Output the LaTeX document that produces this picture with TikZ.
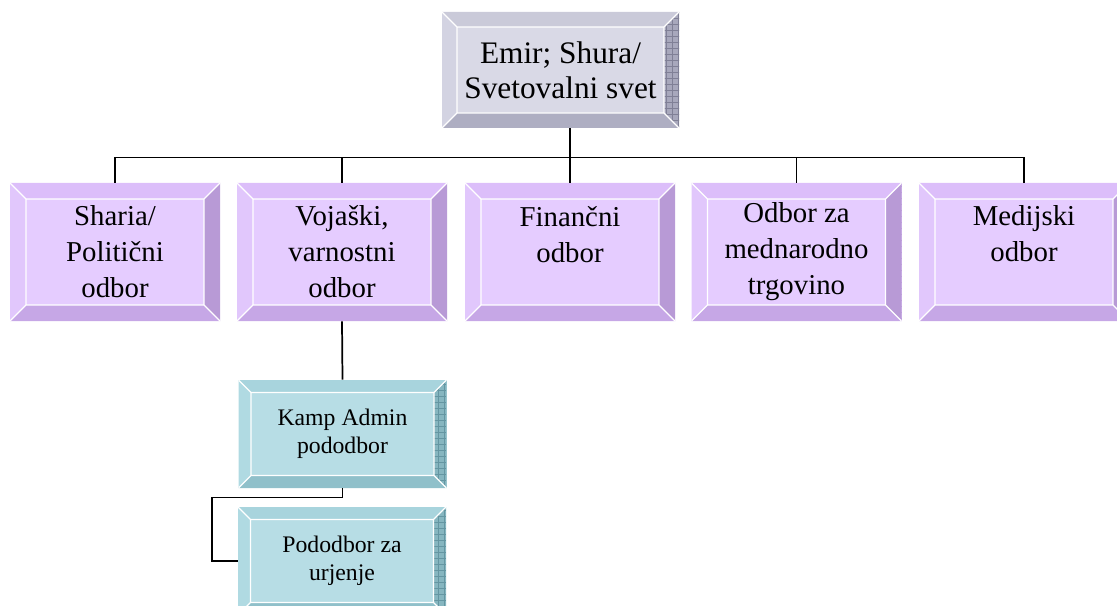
\documentclass[tikz,border=0pt]{standalone}
\usepackage{fontspec}
\setmainfont{Liberation Serif}
\usetikzlibrary{patterns.meta}

\definecolor{greyface}{RGB}{217,217,230}
\definecolor{greytop}{RGB}{202,202,217}
\definecolor{greyleft}{RGB}{211,211,226}
\definecolor{greyright}{RGB}{168,168,188}
\definecolor{greybottom}{RGB}{174,174,194}
\definecolor{greygrid}{RGB}{128,128,150}
\definecolor{lilacface}{RGB}{229,204,255}
\definecolor{lilactop}{RGB}{220,190,250}
\definecolor{lilacleft}{RGB}{225,199,252}
\definecolor{lilacright}{RGB}{184,154,214}
\definecolor{lilacbottom}{RGB}{198,167,230}
\definecolor{tealface}{RGB}{183,221,229}
\definecolor{tealtop}{RGB}{168,212,221}
\definecolor{tealleft}{RGB}{176,218,226}
\definecolor{tealright}{RGB}{134,182,192}
\definecolor{tealbottom}{RGB}{144,192,202}
\definecolor{tealgrid}{RGB}{100,150,162}

\tikzset{
  bevel/.style n args={7}{fill=#2, inner sep=0pt, align=center,
    path picture={
      \coordinate (nw) at (path picture bounding box.north west);
      \coordinate (ne) at (path picture bounding box.north east);
      \coordinate (sw) at (path picture bounding box.south west);
      \coordinate (se) at (path picture bounding box.south east);
      \coordinate (inw) at ([shift={(#1,-#1)}]nw);
      \coordinate (ine) at ([shift={(-#1,-#1)}]ne);
      \coordinate (isw) at ([shift={(#1,#1)}]sw);
      \coordinate (ise) at ([shift={(-#1,#1)}]se);
      \fill[#3] (nw) -- (ne) -- (ine) -- (inw) -- cycle;
      \fill[#4] (nw) -- (inw) -- (isw) -- (sw) -- cycle;
      \fill[#5] (ne) -- (se) -- (ise) -- (ine) -- cycle;
      \fill[pattern={Hatch[distance=4.5pt, line width=0.5pt]}, pattern color=#7]
        (ne) -- (se) -- (ise) -- (ine) -- cycle;
      \fill[#6] (sw) -- (isw) -- (ise) -- (se) -- cycle;
      \draw[white, line width=0.9pt] (inw) rectangle (ise)
        (nw) -- (inw) (ne) -- (ine) (sw) -- (isw) (se) -- (ise);
    }},
  head/.style = {bevel={11.25pt}{greyface}{greytop}{greyleft}{greyright}{greybottom}{greygrid},
    minimum width=177.75pt, minimum height=87pt,
    font=\fontsize{23.5}{26}\selectfont},
  board/.style = {bevel={12pt}{lilacface}{lilactop}{lilacleft}{lilacright}{lilacbottom}{lilacright},
    minimum width=157.5pt, minimum height=103.5pt,
    font=\fontsize{21.6}{27}\selectfont},
  short/.style = {text depth=27pt},
  sub/.style = {bevel={9.4pt}{tealface}{tealtop}{tealleft}{tealright}{tealbottom}{tealgrid},
    minimum width=156pt, minimum height=81pt,
    font=\fontsize{17.8}{21}\selectfont},
  link/.style = {line width=1.3pt}
}

\begin{document}
\begin{tikzpicture}[x=0.75pt, y=-0.75pt]
    \useasboundingbox (0,0) rectangle (1117,606);
    \clip (0,0) rectangle (1117,606);

    \node[head] (emir) at (560.5,70) {Emir; Shura/\\Svetovalni svet};

    \node[board] (sharia) at (115,252) {Sharia/\\Politični\\odbor};
    \node[board] (vojaski) at (342,252) {Vojaški,\\varnostni\\odbor};
    \node[board, short] (fin) at (570,252) {Finančni\\odbor};
    \node[board] (odbor) at (796.5,252) {Odbor za\\mednarodno\\trgovino};
    \node[board, short] (medij) at (1024,252) {Medijski\\odbor};

    \node[sub] (kamp) at (342.5,434) {Kamp Admin\\pododbor};
    \node[sub] (urj) at (342,561) {Pododbor za\\urjenje};

    \coordinate (bus) at (570,157.5);
    \coordinate (elbow) at (212,497.5);

    \draw[link] (fin |- emir.south) -- (bus);
    \draw[link] (sharia.north) |- (bus) -| (medij.north);
    \foreach \n in {vojaski, fin, odbor}
        \draw[link] (\n.north) -- (\n.north |- bus);
    \draw[link] (vojaski.south) -- (kamp.north);
    \draw[link] (kamp.south) |- (elbow) |- (urj.west);
\end{tikzpicture}
\end{document}
